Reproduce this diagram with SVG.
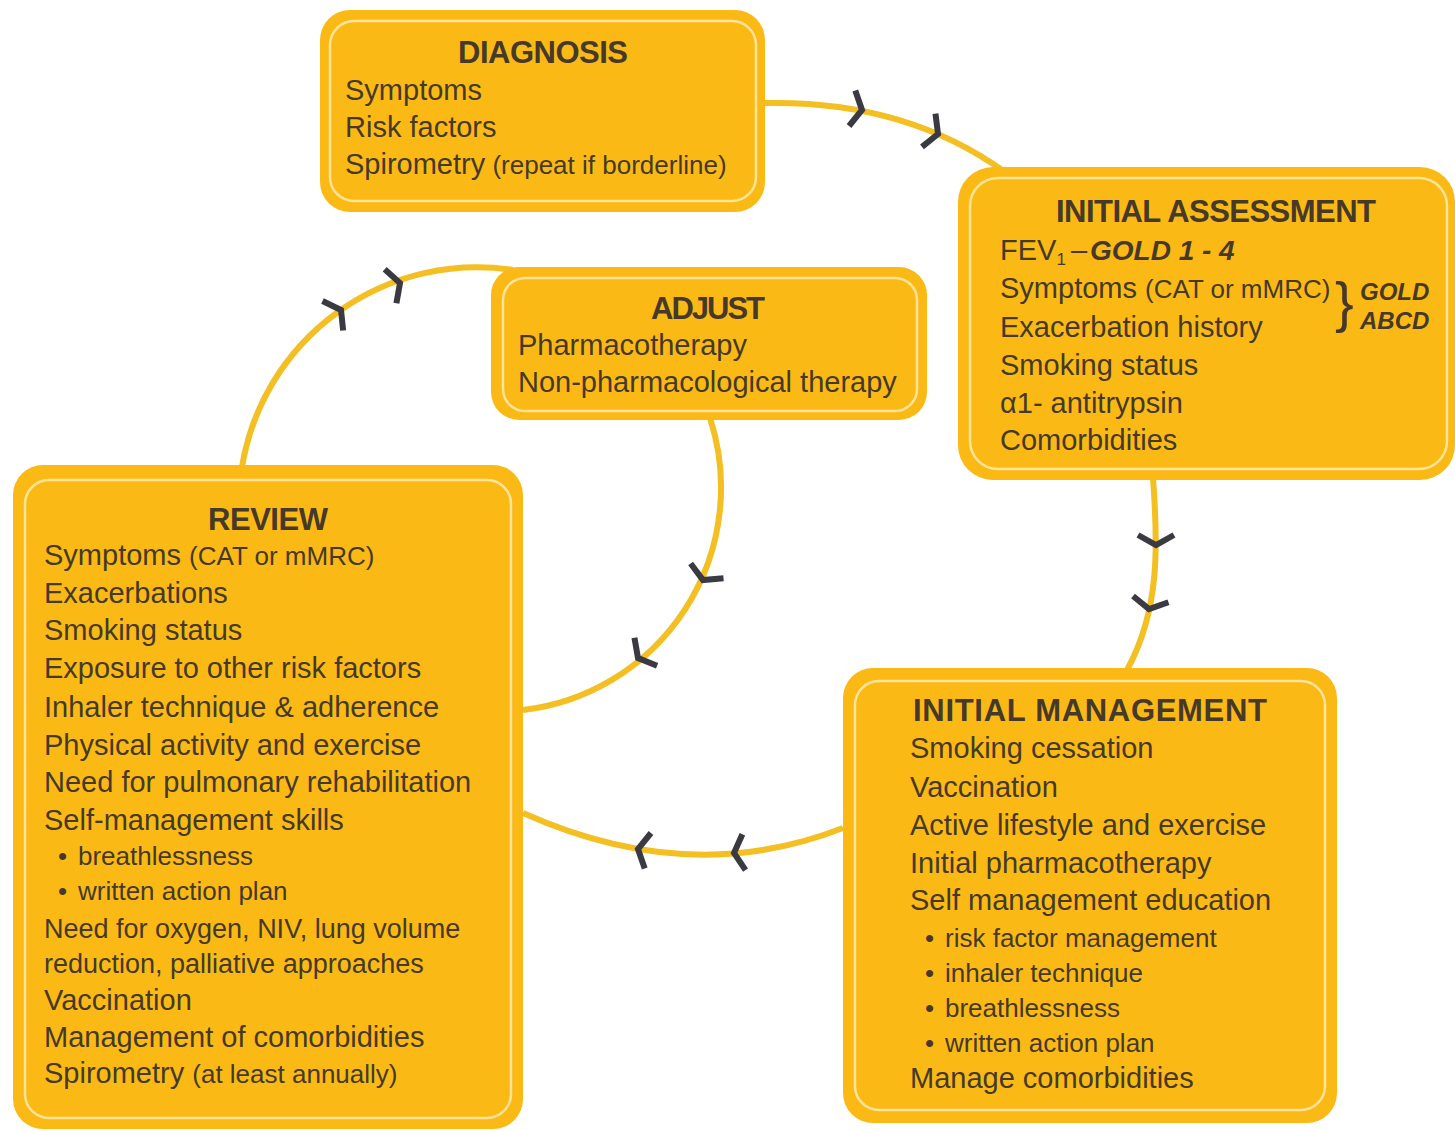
<svg xmlns="http://www.w3.org/2000/svg" xmlns:xlink="http://www.w3.org/1999/xlink" width="1455" height="1131" viewBox="0 0 1455 1131">
<defs>
<style>
.box{fill:#FAB915}
.inner{fill:none;stroke:#FDE49A;stroke-width:2.5}
.t{font-family:"Liberation Sans",Arial,sans-serif;fill:#46392a;font-size:29px}
.h{font-weight:bold;font-size:31px;text-anchor:middle}
.s{font-size:26px}
.m{font-size:27px}
.bi{font-weight:bold;font-style:italic}
.conn{fill:none;stroke:#F3BF22;stroke-width:6}
.chev{fill:none;stroke:#3a3a42;stroke-width:6}
</style>
<path id="chev" d="M-10,-18 L0,0 L-10,18"/>
</defs>
<rect width="1455" height="1131" fill="#ffffff"/>

<g id="connectors">
<path class="conn" d="M765,103 Q905,100 1005,172"/>
<path class="conn" d="M1153,478 C1158,545 1160,610 1127,670"/>
<path class="conn" d="M843,828 Q690,888 523,813"/>
<path class="conn" d="M242,467 A238,238 0 0 1 513,270"/>
<path class="conn" d="M710,418 A224,224 0 0 1 523,710"/>
<g class="chev">
<use xlink:href="#chev" transform="translate(862,110) rotate(10)"/>
<use xlink:href="#chev" transform="translate(938,134) rotate(22)"/>
<use xlink:href="#chev" transform="translate(1156,545) rotate(90)"/>
<use xlink:href="#chev" transform="translate(1149,609) rotate(100)"/>
<use xlink:href="#chev" transform="translate(734,853) rotate(175)"/>
<use xlink:href="#chev" transform="translate(638,849) rotate(-170)"/>
<use xlink:href="#chev" transform="translate(341,310) rotate(-35)"/>
<use xlink:href="#chev" transform="translate(400,283) rotate(-19)"/>
<use xlink:href="#chev" transform="translate(703,580) rotate(114)"/>
<use xlink:href="#chev" transform="translate(638,658) rotate(141)"/>
</g>
</g>

<g id="diagnosis">
<rect class="box" x="320" y="10" width="445" height="202" rx="30"/>
<rect class="inner" x="330" y="21" width="426" height="180" rx="24"/>
<text class="t h" x="543" y="63" textLength="170">DIAGNOSIS</text>
<text class="t" x="345" y="100">Symptoms</text>
<text class="t" x="345" y="137">Risk factors</text>
<text class="t" x="345" y="174">Spirometry<tspan class="s"> (repeat if borderline)</tspan></text>
</g>

<g id="initial-assessment">
<rect class="box" x="958" y="167" width="497" height="313" rx="35"/>
<rect class="inner" x="970" y="178" width="477" height="291" rx="28"/>
<text class="t h" x="1216" y="222" textLength="320">INITIAL ASSESSMENT</text>
<text class="t" x="1000" y="260">FEV<tspan style="font-size:17px" dy="5">1</tspan><tspan dy="-5" x="1071">–</tspan><tspan class="bi" x="1090" style="font-size:28px">GOLD 1 - 4</tspan></text>
<text class="t" x="1000" y="298">Symptoms <tspan class="s">(CAT or mMRC)</tspan></text>
<text class="t" x="1335" y="321" style="font-size:56px">}</text>
<text class="t bi" x="1360" y="300" style="font-size:24px">GOLD</text>
<text class="t bi" x="1360" y="329" style="font-size:24px">ABCD</text>
<text class="t" x="1000" y="337">Exacerbation history</text>
<text class="t" x="1000" y="375">Smoking status</text>
<text class="t" x="1000" y="413">α1- antitrypsin</text>
<text class="t" x="1000" y="450">Comorbidities</text>
</g>

<g id="adjust">
<rect class="box" x="491" y="267" width="436" height="153" rx="28"/>
<rect class="inner" x="503" y="278" width="414" height="133" rx="22"/>
<text class="t h" x="708" y="319" textLength="114">ADJUST</text>
<text class="t" x="518" y="355">Pharmacotherapy</text>
<text class="t" x="518" y="392">Non-pharmacological therapy</text>
</g>

<g id="review">
<rect class="box" x="13" y="465" width="510" height="664" rx="30"/>
<rect class="inner" x="25" y="480" width="486" height="638" rx="24"/>
<text class="t h" x="268" y="530" textLength="120">REVIEW</text>
<text class="t" x="44" y="565">Symptoms <tspan class="s">(CAT or mMRC)</tspan></text>
<text class="t" x="44" y="603">Exacerbations</text>
<text class="t" x="44" y="640">Smoking status</text>
<text class="t" x="44" y="678">Exposure to other risk factors</text>
<text class="t" x="44" y="717">Inhaler technique &amp; adherence</text>
<text class="t" x="44" y="755">Physical activity and exercise</text>
<text class="t" x="44" y="792">Need for pulmonary rehabilitation</text>
<text class="t" x="44" y="830">Self-management skills</text>
<text class="t s" x="58" y="865">•<tspan x="78">breathlessness</tspan></text>
<text class="t s" x="58" y="900">•<tspan x="78">written action plan</tspan></text>
<text class="t m" x="44" y="938">Need for oxygen, NIV, lung volume</text>
<text class="t m" x="44" y="973">reduction, palliative approaches</text>
<text class="t" x="44" y="1010">Vaccination</text>
<text class="t" x="44" y="1047">Management of comorbidities</text>
<text class="t" x="44" y="1083">Spirometry <tspan class="s">(at least annually)</tspan></text>
</g>

<g id="initial-management">
<rect class="box" x="843" y="668" width="494" height="455" rx="30"/>
<rect class="inner" x="855" y="681" width="470" height="429" rx="24"/>
<text class="t h" x="1090" y="721" textLength="354">INITIAL MANAGEMENT</text>
<text class="t" x="910" y="758">Smoking cessation</text>
<text class="t" x="910" y="797">Vaccination</text>
<text class="t" x="910" y="835">Active lifestyle and exercise</text>
<text class="t" x="910" y="873">Initial pharmacotherapy</text>
<text class="t" x="910" y="910">Self management education</text>
<text class="t s" x="925" y="947">•<tspan x="945">risk factor management</tspan></text>
<text class="t s" x="925" y="982">•<tspan x="945">inhaler technique</tspan></text>
<text class="t s" x="925" y="1017">•<tspan x="945">breathlessness</tspan></text>
<text class="t s" x="925" y="1052">•<tspan x="945">written action plan</tspan></text>
<text class="t" x="910" y="1088">Manage comorbidities</text>
</g>
</svg>
